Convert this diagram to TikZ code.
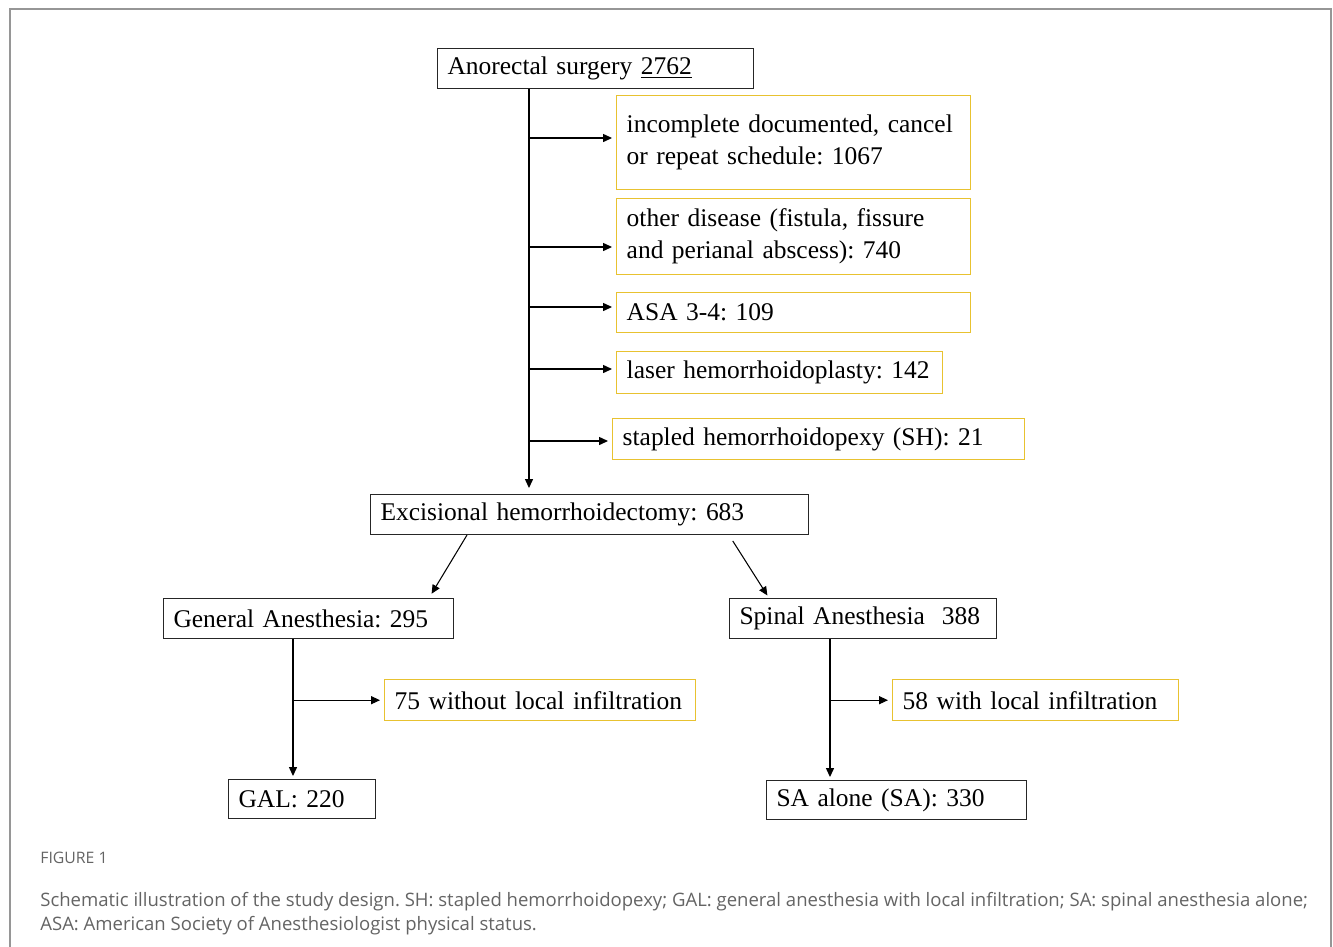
\documentclass[tikz,border=0pt]{standalone}
\usepackage{fontspec}
\setmainfont{Liberation Serif}
\newfontfamily\capfont{Open Sans}
\usetikzlibrary{arrows.meta,calc}
\definecolor{boxyellow}{RGB}{232,194,48}
\definecolor{framegray}{RGB}{150,150,150}
\definecolor{capgray}{RGB}{100,100,100}
\frenchspacing
\begin{document}
\begin{tikzpicture}[x=0.02cm, y=-0.02cm,
    box/.style={draw=black!85, line width=0.6pt, anchor=north west, align=left,
                inner xsep=0.2cm, inner ysep=0pt, font=\fontsize{14.5}{18.2}\selectfont},
    excl/.style={box, draw=boxyellow, line width=0.8pt},
    arr/.style={-{Triangle[length=5pt,width=4.5pt]}, line width=0.6pt}]
    \useasboundingbox (0,0) rectangle (1333,947);

    % Marco
    \draw[framegray, line width=0.8pt] (10,947) -- (10,9) -- (1331,9) -- (1331,947);

    % Cajas principales
    \node[box, text width=5.92cm, minimum height=0.8cm] (surg) at (437,48) {Anorectal surgery \underline{2762}};
    \node[box, text width=8.36cm, minimum height=0.8cm] (exc) at (370,494) {Excisional hemorrhoidectomy: 683};
    \node[box, text width=5.40cm, minimum height=0.8cm] (ga) at (163,598) {General Anesthesia: 295};
    \node[box, text width=4.94cm, minimum height=0.8cm] (sa) at (729,598) {Spinal Anesthesia~~388};
    \node[box, text width=2.54cm, minimum height=0.78cm] (gal) at (228,779) {GAL: 220};
    \node[box, text width=4.80cm, minimum height=0.78cm] (saa) at (766,780) {SA alone (SA): 330};

    % Exclusiones (cajas amarillas)
    \node[excl, text width=6.68cm, minimum height=1.88cm] (ex1) at (616,95) {incomplete documented, cancel\\or repeat schedule: 1067};
    \node[excl, text width=6.68cm, minimum height=1.52cm] (ex2) at (616,198) {other disease (fistula, fissure\\and perianal abscess): 740};
    \node[excl, text width=6.68cm, minimum height=0.8cm] (ex3) at (616,292) {ASA 3-4: 109};
    \node[excl, text width=6.12cm, minimum height=0.84cm] (ex4) at (616,351) {laser hemorrhoidoplasty: 142};
    \node[excl, text width=7.84cm, minimum height=0.82cm] (ex5) at (612,418) {stapled hemorrhoidopexy (SH): 21};
    \node[excl, text width=5.82cm, minimum height=0.82cm] (wo) at (384,679) {75 without local infiltration};
    \node[excl, text width=5.32cm, minimum height=0.82cm] (wi) at (892,679) {58 with local infiltration};

    % Troncos
    \coordinate (trunk) at ($(surg.south west)+(92,0)$);
    \coordinate (gtrunk) at ($(ga.south west)+(130,0)$);
    \coordinate (strunk) at ($(sa.south west)+(101,0)$);
    \draw[arr, shorten >=0.12cm] (trunk) -- (trunk |- exc.north);
    \foreach \e/\dy in {ex1/43, ex2/49, ex3/15, ex4/18, ex5/23} {
        \coordinate (\e-in) at ($(\e.north west)+(0,\dy)$);
        \draw[arr, shorten >=0.08cm] (trunk |- \e-in) -- (\e-in);
    }
    \draw[arr, shorten >=0.06cm] (gtrunk) -- (gtrunk |- gal.north);
    \draw[arr, shorten >=0.08cm] (gtrunk |- wo.west) -- (wo.west);
    \draw[arr, shorten >=0.06cm] (strunk) -- (strunk |- saa.north);
    \draw[arr, shorten >=0.08cm] (strunk |- wi.west) -- (wi.west);

    % Diagonales
    \draw[arr, shorten >=0.1cm] ($(exc.south west)+(97,0)$) -- ($(ga.north west)+(266,0)$);
    \draw[arr, shorten <=0.14cm, shorten >=0.06cm] ($(exc.south west)+(359,0)$) -- ($(sa.north west)+(40,0)$);

    % Leyenda
    \node[anchor=west, inner sep=0pt, text=capgray, font=\capfont\fontsize{9}{11}\selectfont] (fig) at (40,858) {FIGURE 1};
    \node[anchor=north west, inner sep=0pt, align=left, text=capgray, font=\capfont\fontsize{10.55}{13.6}\selectfont] (cap) at (40,892)
        {Schematic illustration of the study design. SH: stapled hemorrhoidopexy; GAL: general anesthesia with local infiltration; SA: spinal anesthesia alone;\\
         ASA: American Society of Anesthesiologist physical status.};
\end{tikzpicture}
\end{document}
